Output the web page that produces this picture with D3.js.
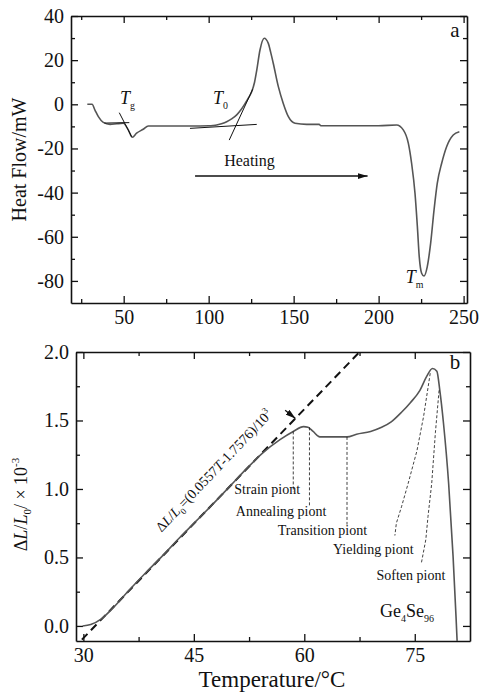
<!DOCTYPE html>
<html>
<head>
<meta charset="utf-8">
<script src="https://cdn.jsdelivr.net/npm/d3@7"></script>
<style>
  body { margin: 0; background: #fff; }
  svg { display: block; }
  text { font-family: "Liberation Serif", "Times New Roman", serif; fill: #111; }
  .domain { stroke: #111; stroke-width: 1.6; }
  .tick line { stroke: #111; stroke-width: 1.3; }
</style>
</head>
<body>
<svg id="chart" width="482" height="694"></svg>
<script>
// panel a: DSC curve (temperature / heat flow)
const dscT  = [28.6, 31.4, 33.1, 35.1, 38, 42, 46, 49.8, 52.7, 55.1, 57.6, 61.5, 64.5, 70, 80, 90, 100, 102.5,
  104.7, 107.5, 110.6, 113.5, 116.5, 119, 121.4, 123.5, 125.3, 127, 128.3, 130.2, 132.7, 135.1, 136.5, 138, 141,
  143.9, 146.9, 150.8, 157.7, 165, 166, 180, 200, 210.6, 214.5, 217.5, 219.4, 221.4, 222.8, 223.9, 225.3, 226.7,
  228.6, 230.6, 232.6, 234.5, 237.1, 240, 243.9, 247.5];
const dscHF = [0, 0, -2.6, -5.6, -8.2, -9.1, -8.8, -8.6, -11.6, -14.9, -13.1, -11.3, -9.8, -9.8, -9.8, -9.8, -9.7, -9.6,
  -9.4, -8.8, -7.9, -6.6, -4.8, -2.5, 0.3, 3, 5.7, 10, 15.5, 24.6, 29.9, 27.6, 23.5, 18.6, 8,
  0.4, -5.6, -8.6, -9.1, -9.1, -9.7, -9.7, -9.7, -9.4, -11.6, -17.7, -26.7, -40.3, -55.4, -69, -76.5, -77.8,
  -73.6, -63, -47.9, -35.8, -26.7, -19.2, -13.9, -12.4];
// tangent lines for Tg and T0: [[T1, HF1], [T2, HF2]]
const tangentsA = [
  [[38.6, -8.5], [53.3, -8.3]],
  [[47.4, -3.8], [54.7, -14.7]],
  [[89, -10.9], [128.3, -9.1]],
  [[112.1, -16.2], [125.9, 6.8]]
];
const xTicksA = [50, 100, 150, 200, 250];
const yTicksA = [40, 20, 0, -20, -40, -60, -80];

// panel b: dilatometry curve (temperature / dL/L0)
const dilT  = [29.9, 31, 32.4, 34, 36.2, 38.5, 40.8, 43, 45.3, 47.6, 49.9, 52.2, 54.4, 56.7, 58.5, 59.9, 60.5, 61.2,
  62.1, 65.8, 67.1, 69, 70.5, 71.8, 73.2, 74.4, 75.7, 76.6, 77.4, 78, 78.4, 78.9, 79.6, 80.2, 80.6, 80.75];
const dilDL = [0, 0.01, 0.05, 0.13, 0.26, 0.39, 0.515, 0.64, 0.765, 0.89, 1.02, 1.15, 1.265, 1.36, 1.42, 1.455, 1.45, 1.42,
  1.38, 1.38, 1.40, 1.42, 1.45, 1.49, 1.56, 1.63, 1.72, 1.82, 1.88, 1.86, 1.72, 1.48, 1.04, 0.51, 0.07, -0.11];
// fitted line end points
const fitLine = [[29.8, -0.1], [67.5, 2.0]];
// leader lines to the named points
const pointNames = ["Strain piont", "Annealing piont", "Transition piont", "Yielding piont", "Soften piont"];
const leaders = [
  [[58.5, 1.42], [58.5, 0.98]],
  [[60.7, 1.45], [60.7, 0.88]],
  [[65.8, 1.38], [65.8, 0.74]],
  [[77.1, 1.845], [76.2, 1.53], [75.3, 1.28], [74.1, 1.04], [73.2, 0.87], [72.5, 0.75], [72.3, 0.66]],
  [[78.3, 1.72], [77.8, 1.41], [77.3, 1.04], [76.8, 0.8], [76.5, 0.63], [75.9, 0.46]]
];
const labelAnchors = [[50.5, 0.96], [50.7, 0.8], [56.4, 0.664], [63.9, 0.526], [69.8, 0.336]];
const xTicksB = [30, 45, 60, 75];
const yTicksB = [0, 0.5, 1.0, 1.5, 2.0];

const svg = d3.select("#chart");
const curveColor = "#555";
const serif = "'Liberation Serif', 'Times New Roman', serif";

function frame(g, x, y, majorX, minorX, majorY, minorY, fmtY) {
  const [x0, x1] = x.range(), [y0, y1] = y.range();
  // minor ticks first
  g.append("g").attr("transform", `translate(0,${y0})`)
    .call(d3.axisBottom(x).tickValues(minorX).tickSize(-4).tickFormat("")).select(".domain").remove();
  g.append("g").attr("transform", `translate(0,${y1})`)
    .call(d3.axisTop(x).tickValues(minorX).tickSize(-4).tickFormat("")).select(".domain").remove();
  g.append("g").attr("transform", `translate(${x0},0)`)
    .call(d3.axisLeft(y).tickValues(minorY).tickSize(-4).tickFormat("")).select(".domain").remove();
  g.append("g").attr("transform", `translate(${x1},0)`)
    .call(d3.axisRight(y).tickValues(minorY).tickSize(-4).tickFormat("")).select(".domain").remove();
  // major ticks
  g.append("g").attr("transform", `translate(0,${y0})`)
    .call(d3.axisBottom(x).tickValues(majorX).tickSize(-7).tickPadding(7).tickSizeOuter(0));
  g.append("g").attr("transform", `translate(0,${y1})`)
    .call(d3.axisTop(x).tickValues(majorX).tickSize(-7).tickFormat("").tickSizeOuter(0));
  g.append("g").attr("transform", `translate(${x0},0)`)
    .call(d3.axisLeft(y).tickValues(majorY).tickSize(-7).tickPadding(7).tickSizeOuter(0).tickFormat(fmtY));
  g.append("g").attr("transform", `translate(${x1},0)`)
    .call(d3.axisRight(y).tickValues(majorY).tickSize(-7).tickFormat("").tickSizeOuter(0));
  g.selectAll("g").attr("font-family", serif);
  g.selectAll(".tick text").style("font-family", serif).style("font-size", "20px").attr("fill", "#111");
}

// ---------- panel a ----------
const xa = d3.scaleLinear().domain([19, 252]).range([71, 467]);
const ya = d3.scaleLinear().domain([-90, 40]).range([303, 16]);
const ga = svg.append("g");

frame(ga, xa, ya, xTicksA, [25, 75, 125, 175, 225], yTicksA, [30, 10, -10, -30, -50, -70],
  d => d3.format("d")(d).replace("−", "-"));

const lineA = d3.line().x((d, i) => xa(dscT[i])).y((d, i) => ya(dscHF[i])).curve(d3.curveMonotoneX);
ga.append("path").datum(dscT).attr("d", lineA)
  .attr("fill", "none").attr("stroke", curveColor).attr("stroke-width", 1.6);

ga.selectAll(".tangent").data(tangentsA).join("line")
  .attr("x1", d => xa(d[0][0])).attr("y1", d => ya(d[0][1]))
  .attr("x2", d => xa(d[1][0])).attr("y2", d => ya(d[1][1]))
  .attr("stroke", "#111").attr("stroke-width", 1);

function tLabel(g, x, y, sub, size) {
  const t = g.append("text").attr("x", x).attr("y", y).style("font-size", size + "px");
  t.append("tspan").style("font-style", "italic").text("T");
  t.append("tspan").attr("dy", 5).style("font-size", (size * 0.55) + "px").text(sub);
}
tLabel(ga, xa(47.8), ya(0), "g", 18);
tLabel(ga, xa(102.5), ya(0), "0", 18);
tLabel(ga, xa(216), ya(-81), "m", 18);

ga.append("text").attr("x", 455).attr("y", 37).attr("text-anchor", "middle").style("font-size", "21px").text("a");

svg.append("defs").append("marker").attr("id", "arr").attr("viewBox", "0 0 10 6")
  .attr("refX", 10).attr("refY", 3).attr("markerWidth", 10).attr("markerHeight", 6)
  .attr("markerUnits", "userSpaceOnUse").attr("orient", "auto")
  .append("path").attr("d", "M0,0L10,3L0,6Z").attr("fill", "#111");

ga.append("line").attr("x1", xa(92)).attr("x2", xa(193.5)).attr("y1", ya(-32.5)).attr("y2", ya(-32.5))
  .attr("stroke", "#111").attr("stroke-width", 1.6).attr("marker-end", "url(#arr)");
ga.append("text").attr("x", xa(124)).attr("y", ya(-28)).attr("text-anchor", "middle")
  .style("font-size", "16px").text("Heating");

ga.append("text").attr("transform", `translate(26,${(16 + 303) / 2}) rotate(-90)`)
  .attr("text-anchor", "middle").style("font-size", "20px").text("Heat Flow/mW");

// ---------- panel b ----------
const xb = d3.scaleLinear().domain([29, 82.5]).range([76, 470]);
const yb = d3.scaleLinear().domain([-0.11, 2.0]).range([641, 352]);
const gb = svg.append("g");

frame(gb, xb, yb, xTicksB, [37.5, 52.5, 67.5], yTicksB, [0.25, 0.75, 1.25, 1.75], d3.format(".1f"));

const clip = svg.append("clipPath").attr("id", "clipb");
clip.append("rect").attr("x", 76).attr("y", 352).attr("width", 394).attr("height", 289);

const plotB = gb.append("g").attr("clip-path", "url(#clipb)");
plotB.append("path").datum(fitLine)
  .attr("d", d3.line().x(d => xb(d[0])).y(d => yb(d[1])))
  .attr("fill", "none").attr("stroke", "#111").attr("stroke-width", 2).attr("stroke-dasharray", "8,5");

const lineB = d3.line().x((d, i) => xb(dilT[i])).y((d, i) => yb(dilDL[i])).curve(d3.curveMonotoneX);
plotB.append("path").datum(dilT).attr("d", lineB)
  .attr("fill", "none").attr("stroke", curveColor).attr("stroke-width", 1.6);

plotB.selectAll(".leader").data(leaders).join("path")
  .attr("d", d3.line().x(d => xb(d[0])).y(d => yb(d[1])))
  .attr("fill", "none").attr("stroke", "#111").attr("stroke-width", 0.8).attr("stroke-dasharray", "3,2");

gb.selectAll(".pname").data(pointNames).join("text")
  .attr("x", (d, i) => xb(labelAnchors[i][0])).attr("y", (d, i) => yb(labelAnchors[i][1]))
  .style("font-size", "14px").text(d => d);

// small arrow pointing at the fitted line
gb.append("line").attr("x1", xb(57.4)).attr("y1", yb(1.575)).attr("x2", xb(58.8)).attr("y2", yb(1.515))
  .attr("stroke", "#111").attr("stroke-width", 1.3).attr("marker-end", "url(#arr)");

// equation along the fitted line
const eq = gb.append("text").attr("transform", `translate(${xb(40.6)},${yb(0.68)}) rotate(-46.5)`)
  .style("font-size", "14px");
eq.append("tspan").text("Δ");
eq.append("tspan").style("font-style", "italic").text("L");
eq.append("tspan").text("/");
eq.append("tspan").style("font-style", "italic").text("L");
eq.append("tspan").attr("dy", 4).style("font-size", "9px").text("0");
eq.append("tspan").attr("dy", -4).text("=(0.0557");
eq.append("tspan").style("font-style", "italic").text("T");
eq.append("tspan").text("-1.7576)/10");
eq.append("tspan").attr("dy", -6).style("font-size", "9px").text("3");

gb.append("text").attr("x", 455).attr("y", 369).attr("text-anchor", "middle").style("font-size", "21px").text("b");

const ge = gb.append("text").attr("x", 380).attr("y", 617).style("font-size", "18px");
ge.append("tspan").text("Ge");
ge.append("tspan").attr("dy", 5).style("font-size", "10px").text("4");
ge.append("tspan").attr("dy", -5).text("Se");
ge.append("tspan").attr("dy", 5).style("font-size", "10px").text("96");

const yl = gb.append("text").attr("transform", `translate(27,${(352 + 641) / 2 + 8}) rotate(-90)`)
  .attr("text-anchor", "middle").style("font-size", "18px");
yl.append("tspan").text("Δ");
yl.append("tspan").style("font-style", "italic").text("L");
yl.append("tspan").text("/");
yl.append("tspan").style("font-style", "italic").text("L");
yl.append("tspan").attr("dy", 4).style("font-size", "11px").text("0");
yl.append("tspan").attr("dy", -4).text("/ × 10");
yl.append("tspan").attr("dy", -8).style("font-size", "11px").text("-3");

gb.append("text").attr("x", 272).attr("y", 687).attr("text-anchor", "middle")
  .style("font-size", "23px").text("Temperature/°C");
</script>
</body>
</html>
